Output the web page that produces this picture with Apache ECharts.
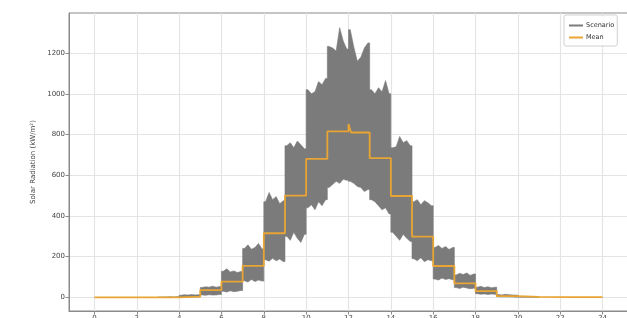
<!DOCTYPE html>
<html>
<head>
<meta charset="utf-8">
<script src="https://cdn.jsdelivr.net/npm/echarts@6/dist/echarts.min.js"></script>
<style>
  html, body { margin: 0; padding: 0; background: #fff; }
  #chart { width: 627px; height: 318px; }
</style>
</head>
<body>
<div id="chart"></div>
<script>
// ---------------- DATA ----------------
// hour ticks shown on x axis
const xTicks = [0, 2, 4, 6, 8, 10, 12, 14, 16, 18, 20, 22, 24];
const yTicks = [0, 200, 400, 600, 800, 1000, 1200];

// hourly mean (hour 0 .. 23)
const meanVals = [0, 0, 0, 0, 4, 36, 77, 155, 315, 500, 680, 815, 810, 684, 498, 298, 154, 69, 31, 6, 2, 1, 1, 1];
// little peak of the mean right at noon
const noonPeak = [12.03, 852];

// scenario envelope, first hour below, six readings per hour (every 10 min)
const bandStart = 3;
const scenHi = [
    [1, 2, 2, 3, 2, 3],
    [10, 13, 11, 14, 12, 13],
    [48, 52, 50, 55, 50, 53],
    [128, 140, 125, 130, 122, 127],
    [240, 258, 236, 245, 265, 238],
    [470, 515, 480, 495, 460, 475],
    [745, 760, 735, 768, 750, 730],
    [1020, 1000, 1010, 1060, 1045, 1075],
    [1233, 1225, 1210, 1325, 1260, 1220],
    [1315, 1230, 1160, 1180, 1225, 1250],
    [1020, 1000, 1030, 1010, 1065, 1000],
    [735, 740, 790, 760, 770, 745],
    [470, 480, 455, 475, 465, 450],
    [245, 255, 240, 250, 235, 245],
    [110, 118, 112, 120, 108, 115],
    [50, 54, 48, 52, 47, 50],
    [14, 12, 15, 13, 12, 11],
    [5, 4, 5, 4, 3, 3]
];
const scenLo = [
    [0, 0, 0, 0, 0, 0],
    [1, 1, 2, 1, 2, 2],
    [12, 10, 13, 11, 12, 14],
    [30, 26, 32, 28, 30, 34],
    [82, 75, 88, 78, 85, 80],
    [185, 178, 192, 180, 188, 176],
    [300, 280, 320, 290, 270, 310],
    [440, 455, 430, 470, 450, 480],
    [540, 555, 570, 560, 580, 575],
    [570, 560, 545, 540, 520, 530],
    [480, 470, 450, 430, 440, 410],
    [320, 300, 280, 310, 290, 275],
    [190, 180, 195, 175, 185, 180],
    [90, 85, 95, 88, 92, 86],
    [48, 44, 50, 46, 42, 45],
    [18, 15, 17, 14, 16, 15],
    [3, 2, 3, 2, 2, 1],
    [1, 0, 1, 0, 0, 0]
];

// ---------------- BUILD ----------------
function envelope(rows) {
    let pts = [];
    rows.forEach((r, i) => {
        let h = bandStart + i;
        pts.push([h, r[0]]);
        r.forEach((v, k) => pts.push([h + (k + 0.5) / 6, v]));
        pts.push([h + 1, r[r.length - 1]]);
    });
    return pts;
}
const hiPts = envelope(scenHi);
const loPts = envelope(scenLo).reverse();

let meanPts = [];
meanVals.forEach((v, h) => {
    if (h === 12) {
        meanPts.push([12, noonPeak[1]]);
        meanPts.push([noonPeak[0], noonPeak[1]]);
        meanPts.push([12.12, v]);
    } else {
        meanPts.push([h, v]);
    }
    meanPts.push([h + 1, v]);
});

const gridColor = '#e4e4e4';
const axisColor = '#8a8a8a';
const font = 'DejaVu Sans';

let chart = echarts.init(document.getElementById('chart'), null, { renderer: 'canvas' });

chart.setOption({
    animation: false,
    backgroundColor: '#fff',
    grid: {
        left: 69, top: 13, right: -1, bottom: 7,
        outerBoundsMode: 'none',
        containLabel: false,
        show: true, borderColor: axisColor, borderWidth: 1
    },
    legend: {
        orient: 'vertical',
        left: 564, top: 15,
        padding: [6, 3, 4, 5],
        itemGap: 3,
        itemWidth: 14, itemHeight: 2,
        borderColor: '#d0d0d0', borderWidth: 1, borderRadius: 2,
        backgroundColor: 'rgba(255,255,255,0.85)',
        textStyle: { fontFamily: font, fontSize: 6.5, color: '#333', lineHeight: 9, padding: [0, 0, 0, -2] },
        data: [
            { name: 'Scenario', icon: 'rect' },
            { name: 'Mean', icon: 'rect' }
        ]
    },
    xAxis: {
        type: 'value',
        min: -1.2, max: 25.2,
        axisLine: { show: true, onZero: false, lineStyle: { color: axisColor } },
        axisTick: { show: true, length: 3.5, customValues: xTicks, lineStyle: { color: axisColor } },
        axisLabel: { customValues: xTicks, margin: 4, fontFamily: font, fontSize: 7, color: '#444' },
        splitLine: { show: true, lineStyle: { color: gridColor, width: 1.2 } }
    },
    yAxis: {
        type: 'value',
        min: -67, max: 1397,
        name: 'Solar Radiation (kW/m²)',
        nameLocation: 'middle',
        nameGap: 26,
        nameTextStyle: { fontFamily: font, fontSize: 7, color: '#444' },
        axisLine: { show: true, onZero: false, lineStyle: { color: axisColor } },
        axisTick: { show: true, length: 3.5, customValues: yTicks, lineStyle: { color: axisColor } },
        axisLabel: {
            customValues: yTicks, margin: 4, fontFamily: font, fontSize: 7, color: '#444',
            formatter: v => String(v)
        },
        splitLine: { show: true, lineStyle: { color: gridColor, width: 1.2 } }
    },
    series: [
        {
            name: 'Scenario',
            type: 'custom',
            coordinateSystem: 'cartesian2d',
            itemStyle: { color: '#7b7b7b' },
            data: [[12, 0]],
            renderItem: function (params, api) {
                let pts = hiPts.concat(loPts).map(p => api.coord(p));
                return {
                    type: 'polygon',
                    shape: { points: pts },
                    style: { fill: '#7b7b7b', stroke: '#7b7b7b', lineWidth: 0.6 }
                };
            },
            z: 2
        },
        {
            name: 'Mean',
            type: 'line',
            data: meanPts,
            showSymbol: false,
            symbol: 'none',
            color: '#e8a533',
            lineStyle: { color: '#e8a533', width: 1.8 },
            z: 3
        }
    ]
});
</script>
</body>
</html>
